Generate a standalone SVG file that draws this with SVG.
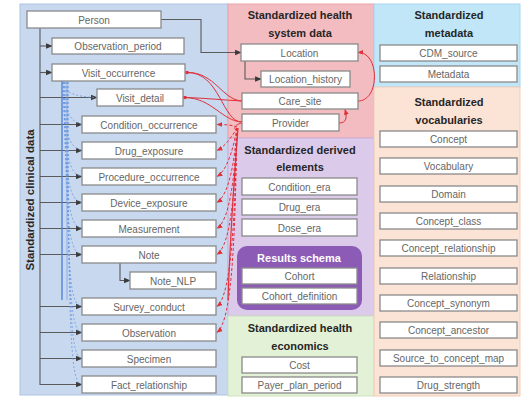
<svg xmlns="http://www.w3.org/2000/svg" width="525" height="398" viewBox="0 0 525 398">
<defs>
<style>
.box{fill:#ffffff;stroke:#8a8a8a;stroke-width:1.3}
.lbl{font-family:"Liberation Sans",Arial,sans-serif;font-size:10px;fill:#666;text-anchor:middle}
.ttl{font-family:"Liberation Sans",Arial,sans-serif;font-size:11px;font-weight:bold;fill:#262626;text-anchor:middle}
.g{fill:none;stroke:#5a5a5a;stroke-width:1.1}
.r{fill:none;stroke:#e0303a;stroke-width:1}
.rd{fill:none;stroke:#e0303a;stroke-width:1;stroke-dasharray:3 2}
.b{fill:none;stroke:#4a7fd6;stroke-width:1.3}
.bd{fill:none;stroke:#6d9be0;stroke-width:0.8;stroke-dasharray:2 2}
</style>
<marker id="ag" viewBox="0 0 10 10" refX="9" refY="5" markerWidth="6" markerHeight="6" orient="auto"><path d="M0,1 L10,5 L0,9 z" fill="#3a3a3a"/></marker>
<marker id="ar" viewBox="0 0 10 10" refX="9" refY="5" markerWidth="6" markerHeight="6" orient="auto"><path d="M0,1 L10,5 L0,9 z" fill="#e0303a"/></marker>
<marker id="dr" viewBox="0 0 10 10" refX="5" refY="5" markerWidth="4" markerHeight="4"><circle cx="5" cy="5" r="4.5" fill="#e0303a"/></marker>
</defs>
<rect x="0" y="0" width="525" height="398" fill="#ffffff"/>
<g id="panels">
<rect x="20" y="4" width="208" height="391" fill="#c7d8ef" stroke="#aec3e2" stroke-width="1"/>
<rect x="228" y="4" width="146" height="134" fill="#f3bcc0" stroke="#e9a3a8" stroke-width="1"/>
<rect x="228" y="138" width="146" height="178" fill="#dccaea" stroke="#c8b0dc" stroke-width="1"/>
<rect x="228" y="316" width="146" height="80" fill="#e3f1d6" stroke="#cfe3bd" stroke-width="1"/>
<rect x="374" y="4" width="146" height="83" fill="#c0e6f8" stroke="#a6d6ee" stroke-width="1"/>
<rect x="374" y="87" width="146" height="309" fill="#fbe3d6" stroke="#f1cdb9" stroke-width="1"/>
<text class="ttl" transform="translate(34,200) rotate(-90)" style="font-size:11.5px">Standardized clinical data</text>
<text class="ttl" x="300" y="19">Standardized health</text>
<text class="ttl" x="300" y="37">system data</text>
<text class="ttl" x="300" y="154">Standardized derived</text>
<text class="ttl" x="300" y="171">elements</text>
<text class="ttl" x="300" y="332">Standardized health</text>
<text class="ttl" x="300" y="350">economics</text>
<text class="ttl" x="449" y="19">Standardized</text>
<text class="ttl" x="449" y="37">metadata</text>
<text class="ttl" x="449" y="106">Standardized</text>
<text class="ttl" x="449" y="124">vocabularies</text>
<rect x="237" y="246" width="125" height="64" rx="10" fill="#8c5bb6"/>
<text class="ttl" x="299" y="262" style="fill:#ffffff">Results schema</text>
</g>
<g id="connectors">
<path class="g" d="M40,28 V385"/>
<path class="g" d="M40,46 H52" marker-end="url(#ag)"/>
<path class="g" d="M40,72.5 H52" marker-end="url(#ag)"/>
<path class="g" d="M40,97.5 H97" marker-end="url(#ag)"/>
<path class="g" d="M40,124.5 H82" marker-end="url(#ag)"/>
<path class="g" d="M40,150.5 H82" marker-end="url(#ag)"/>
<path class="g" d="M40,176.5 H82" marker-end="url(#ag)"/>
<path class="g" d="M40,202.5 H82" marker-end="url(#ag)"/>
<path class="g" d="M40,228.5 H82" marker-end="url(#ag)"/>
<path class="g" d="M40,254.5 H82" marker-end="url(#ag)"/>
<path class="g" d="M40,306.5 H82" marker-end="url(#ag)"/>
<path class="g" d="M40,332.5 H82" marker-end="url(#ag)"/>
<path class="g" d="M40,358.5 H82" marker-end="url(#ag)"/>
<path class="g" d="M40,384.5 H82" marker-end="url(#ag)"/>
<path class="g" d="M120,263 V280.5 H130" marker-end="url(#ag)"/>
<path class="g" d="M161,19.5 H201 V52.5 H241" marker-end="url(#ag)"/>
<path class="g" d="M245,61 V79 H261" marker-end="url(#ag)"/>
<path class="b" d="M62,81 V300"/>
<path class="b" d="M67,81 V300" style="stroke-width:0.8;stroke:#7aa4e4"/>
<path class="bd" d="M63,82 C63,92 75,97 97,97.5"/>
<path class="bd" d="M63,82 C63,110 70,122 82,124.5"/>
<path class="bd" d="M63,82 C63,135 70,148 82,150.5"/>
<path class="bd" d="M64,82 C64,160 70,174 82,176.5"/>
<path class="bd" d="M64,82 C64,185 70,200 82,202.5"/>
<path class="bd" d="M65,82 C65,210 70,226 82,228.5"/>
<path class="bd" d="M65,82 C65,235 70,252 82,254.5"/>
<path class="bd" d="M67,82 C67,285 70,304 82,306.5"/>
<path class="bd" d="M67,82 C67,310 72,330 82,332.5"/>
<path class="bd" d="M68,82 C68,335 72,356 82,358.5"/>
<path class="bd" d="M68,82 C68,360 72,382 82,384.5"/>
<path class="r" d="M358,101 C380,101 380,52 358,52.5" marker-end="url(#ar)"/>
<path class="r" d="M339,123 C347,123 347,117 345,109.5" marker-end="url(#ar)"/>
<path class="r" d="M187,72.5 C215,72 222,100 242,101" marker-start="url(#dr)"/>
<path class="r" d="M187,72.5 C220,72 222,122 242,122"/>
<path class="r" d="M185,97.5 C205,98 222,100 242,101" marker-start="url(#dr)"/>
<path class="r" d="M185,97.5 C212,98 222,121 242,122"/>
<path class="r" d="M242,123 C236,124 233,128 236,130"/>
<path class="r" d="M238,128 C234,180 230,240 228,300" style="stroke-width:1.2"/>
<path class="rd" d="M237,127 C232,125 226,124.5 217,124.5" marker-end="url(#ar)"/>
<path class="rd" d="M237,128 C233,135 226,146 217,150.5" marker-end="url(#ar)"/>
<path class="rd" d="M237,128 C234,145 228,170 217,176.5" marker-end="url(#ar)"/>
<path class="rd" d="M237,128 C235,160 229,195 217,202.5" marker-end="url(#ar)"/>
<path class="rd" d="M237,128 C235,175 230,220 217,228.5" marker-end="url(#ar)"/>
<path class="rd" d="M237,128 C235,190 231,245 217,254.5" marker-end="url(#ar)"/>
<path class="rd" d="M237,128 C235,210 232,295 217,306.5" marker-end="url(#ar)"/>
<path class="rd" d="M237,128 C235,230 233,320 217,332.5" marker-end="url(#ar)"/>
</g>
<g id="n-person"><rect class="box" x="27" y="11" width="134" height="17"/><text class="lbl" x="94" y="23.5">Person</text></g>
<g id="n-observation-period"><rect class="box" x="52" y="38" width="132" height="16"/><text class="lbl" x="118" y="49.5">Observation_period</text></g>
<g id="n-visit-occurrence"><rect class="box" x="52" y="64" width="133" height="17"/><text class="lbl" x="118.5" y="76.5">Visit_occurrence</text></g>
<g id="n-visit-detail"><rect class="box" x="97" y="89" width="86" height="17"/><text class="lbl" x="140" y="101.5">Visit_detail</text></g>
<g id="n-condition-occurrence"><rect class="box" x="82" y="116" width="134" height="17"/><text class="lbl" x="149" y="128.5">Condition_occurrence</text></g>
<g id="n-drug-exposure"><rect class="box" x="82" y="142" width="134" height="17"/><text class="lbl" x="149" y="154.5">Drug_exposure</text></g>
<g id="n-procedure-occurrence"><rect class="box" x="82" y="168" width="134" height="17"/><text class="lbl" x="149" y="180.5">Procedure_occurrence</text></g>
<g id="n-device-exposure"><rect class="box" x="82" y="194" width="134" height="17"/><text class="lbl" x="149" y="206.5">Device_exposure</text></g>
<g id="n-measurement"><rect class="box" x="82" y="220" width="134" height="17"/><text class="lbl" x="149" y="232.5">Measurement</text></g>
<g id="n-note"><rect class="box" x="82" y="246" width="134" height="17"/><text class="lbl" x="149" y="258.5">Note</text></g>
<g id="n-note-nlp"><rect class="box" x="130" y="272" width="86" height="17"/><text class="lbl" x="173" y="284.5">Note_NLP</text></g>
<g id="n-survey-conduct"><rect class="box" x="82" y="298" width="134" height="17"/><text class="lbl" x="149" y="310.5">Survey_conduct</text></g>
<g id="n-observation"><rect class="box" x="82" y="324" width="134" height="17"/><text class="lbl" x="149" y="336.5">Observation</text></g>
<g id="n-specimen"><rect class="box" x="82" y="350" width="134" height="17"/><text class="lbl" x="149" y="362.5">Specimen</text></g>
<g id="n-fact-relationship"><rect class="box" x="82" y="376" width="134" height="17"/><text class="lbl" x="149" y="388.5">Fact_relationship</text></g>
<g id="n-location"><rect class="box" x="241" y="44" width="117" height="17"/><text class="lbl" x="299.5" y="56.5">Location</text></g>
<g id="n-location-history"><rect class="box" x="261" y="71" width="89" height="16"/><text class="lbl" x="305.5" y="82.5">Location_history</text></g>
<g id="n-care-site"><rect class="box" x="242" y="93" width="116" height="16"/><text class="lbl" x="300" y="104.5">Care_site</text></g>
<g id="n-provider"><rect class="box" x="242" y="114" width="97" height="17"/><text class="lbl" x="290.5" y="126.5">Provider</text></g>
<g id="n-condition-era"><rect class="box" x="242" y="178" width="115" height="17"/><text class="lbl" x="299.5" y="190.5">Condition_era</text></g>
<g id="n-drug-era"><rect class="box" x="242" y="199" width="115" height="16"/><text class="lbl" x="299.5" y="210.5">Drug_era</text></g>
<g id="n-dose-era"><rect class="box" x="242" y="219" width="115" height="17"/><text class="lbl" x="299.5" y="231.5">Dose_era</text></g>
<g id="n-cohort"><rect class="box" x="242" y="268" width="115" height="16"/><text class="lbl" x="299.5" y="279.5">Cohort</text></g>
<g id="n-cohort-definition"><rect class="box" x="242" y="288" width="115" height="16"/><text class="lbl" x="299.5" y="299.5">Cohort_definition</text></g>
<g id="n-cost"><rect class="box" x="242" y="357" width="115" height="16"/><text class="lbl" x="299.5" y="368.5">Cost</text></g>
<g id="n-payer-plan-period"><rect class="box" x="242" y="377" width="115" height="16"/><text class="lbl" x="299.5" y="388.5">Payer_plan_period</text></g>
<g id="n-cdm-source"><rect class="box" x="380" y="45" width="137" height="16"/><text class="lbl" x="448.5" y="56.5">CDM_source</text></g>
<g id="n-metadata"><rect class="box" x="380" y="66" width="137" height="16"/><text class="lbl" x="448.5" y="77.5">Metadata</text></g>
<g id="n-concept"><rect class="box" x="380" y="131" width="137" height="16"/><text class="lbl" x="448.5" y="142.5">Concept</text></g>
<g id="n-vocabulary"><rect class="box" x="380" y="158" width="137" height="16"/><text class="lbl" x="448.5" y="169.5">Vocabulary</text></g>
<g id="n-domain"><rect class="box" x="380" y="186" width="137" height="16"/><text class="lbl" x="448.5" y="197.5">Domain</text></g>
<g id="n-concept-class"><rect class="box" x="380" y="213" width="137" height="16"/><text class="lbl" x="448.5" y="224.5">Concept_class</text></g>
<g id="n-concept-relationship"><rect class="box" x="380" y="240" width="137" height="16"/><text class="lbl" x="448.5" y="251.5">Concept_relationship</text></g>
<g id="n-relationship"><rect class="box" x="380" y="268" width="137" height="16"/><text class="lbl" x="448.5" y="279.5">Relationship</text></g>
<g id="n-concept-synonym"><rect class="box" x="380" y="295" width="137" height="16"/><text class="lbl" x="448.5" y="306.5">Concept_synonym</text></g>
<g id="n-concept-ancestor"><rect class="box" x="380" y="322" width="137" height="16"/><text class="lbl" x="448.5" y="333.5">Concept_ancestor</text></g>
<g id="n-source-to-concept-map"><rect class="box" x="380" y="350" width="137" height="16"/><text class="lbl" x="448.5" y="361.5">Source_to_concept_map</text></g>
<g id="n-drug-strength"><rect class="box" x="380" y="377" width="137" height="16"/><text class="lbl" x="448.5" y="388.5">Drug_strength</text></g>
</svg>
